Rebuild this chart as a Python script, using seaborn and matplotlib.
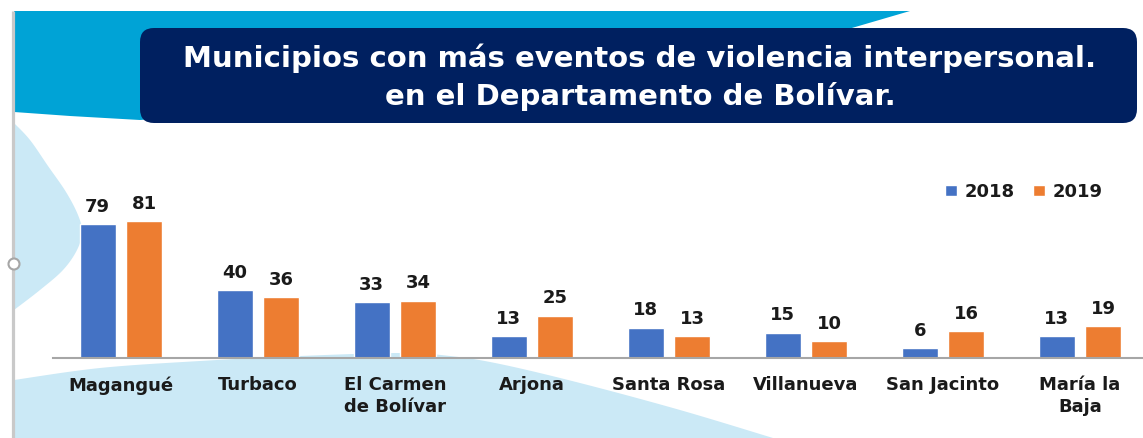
import numpy as np
import pandas as pd
import matplotlib
matplotlib.use("Agg")
import matplotlib.pyplot as plt
import seaborn as sns
from matplotlib.patches import Polygon, FancyBboxPatch, Circle

# ---- data ----
municipios = ["Magangué", "Turbaco", "El Carmen\nde Bolívar", "Arjona", "Santa Rosa",
              "Villanueva", "San Jacinto", "María la\nBaja"]
eventos_2018 = [79, 40, 33, 13, 18, 15, 6, 13]
eventos_2019 = [81, 36, 34, 25, 13, 10, 16, 19]
anios = ["2018", "2019"]
titulo = ["Municipios con más eventos de violencia interpersonal.",
          "en el Departamento de Bolívar."]

df = pd.DataFrame({
    "Municipio": municipios * 2,
    "Año": [anios[0]] * len(municipios) + [anios[1]] * len(municipios),
    "Eventos": eventos_2018 + eventos_2019,
})

sns.set_theme(style="white")
plt.rcParams["font.family"] = ["DejaVu Sans"]

W, H = 1143, 438
fig = plt.figure(figsize=(W / 100, H / 100), dpi=100)
fig.patch.set_facecolor("white")

# ---- decorative background (pixel coordinates) ----
bg = fig.add_axes([0, 0, 1, 1], zorder=0)
bg.set_xlim(0, W)
bg.set_ylim(H, 0)
bg.axis("off")


def smooth(pts, n=16):
    pts = np.asarray(pts, float)
    P = np.vstack([pts[0], pts, pts[-1]])
    out = []
    for i in range(1, len(P) - 2):
        p0, p1, p2, p3 = P[i - 1], P[i], P[i + 1], P[i + 2]
        for t in np.linspace(0, 1, n, endpoint=False):
            t2, t3 = t * t, t * t * t
            out.append(0.5 * ((2 * p1) + (-p0 + p2) * t
                              + (2 * p0 - 5 * p1 + 4 * p2 - p3) * t2
                              + (-p0 + 3 * p1 - 3 * p2 + p3) * t3))
    out.append(P[-2])
    return np.array(out)


CYAN = "#00A3D6"
LIGHT = "#CBE9F6"
NAVY = "#002060"

cyan_pts = [(14, 11), (910, 11), (845, 30), (700, 70), (400, 100),
            (140, 120), (70, 116), (14, 112)]
bg.add_patch(Polygon(cyan_pts, closed=True, fc=CYAN, ec="none"))

blob = smooth([(14, 123), (30, 140), (48, 166), (66, 192), (78, 215), (82, 232),
               (77, 250), (63, 270), (40, 290), (14, 310)])
bg.add_patch(Polygon(blob, closed=True, fc=LIGHT, ec="none"))

bottom = smooth([(14, 380), (100, 368), (200, 361), (300, 356), (400, 353),
                 (450, 356), (500, 364), (580, 383), (680, 410), (773, 438)])
bottom = np.vstack([bottom, [(14, 438)]])
bg.add_patch(Polygon(bottom, closed=True, fc=LIGHT, ec="none"))

bg.plot([13, 13], [11, 438], color="#C9C9C9", lw=2.3, solid_capstyle="butt")
bg.add_patch(Circle((14, 264), 5.5, fc="white", ec="#A6A6A6", lw=1.5, zorder=3))

bg.add_patch(FancyBboxPatch((140, 28), 997, 95,
                            boxstyle="round,pad=0,rounding_size=14",
                            fc=NAVY, ec="none"))
bg.text(640, 67, titulo[0], ha="center", va="baseline", color="white",
        fontsize=21, fontweight="bold")
bg.text(640, 105, titulo[1], ha="center", va="baseline", color="white",
        fontsize=21, fontweight="bold")

# ---- chart ----
ax = fig.add_axes([52.5 / W, 80 / H, 1096 / W, 169 / H], zorder=1)
ax.patch.set_alpha(0)

sns.barplot(data=df, x="Municipio", y="Eventos", hue="Año",
            palette=["#4472C4", "#ED7D31"], saturation=1,
            width=0.68, gap=0.22, errorbar=None, ax=ax)

ax.set_xlim(-0.5, len(municipios) - 0.5)
ax.set_ylim(0, 100)
for c in ax.containers:
    ax.bar_label(c, padding=6, fontsize=13, fontweight="bold", color="#1A1A1A")

for s in ["left", "top", "right"]:
    ax.spines[s].set_visible(False)
ax.spines["bottom"].set_color("#A6A6A6")
ax.spines["bottom"].set_linewidth(1.5)
ax.set_yticks([])
ax.set_xlabel("")
ax.set_ylabel("")
ax.tick_params(axis="x", length=0, pad=13, labelsize=13, labelcolor="#1A1A1A")
for lab in ax.get_xticklabels():
    lab.set_fontweight("bold")
    lab.set_linespacing(1.3)

handles, labels = ax.get_legend_handles_labels()
ax.legend(handles, labels, loc="center left",
          bbox_to_anchor=(945 / W, 1 - 192 / H), bbox_transform=fig.transFigure,
          ncol=2, frameon=False, borderpad=0, borderaxespad=0,
          handlelength=0.65, handleheight=0.5, handletextpad=0.45,
          columnspacing=1.0, labelcolor="#1A1A1A",
          prop={"weight": "bold", "size": 13})

fig.savefig("out.png", dpi=100)
